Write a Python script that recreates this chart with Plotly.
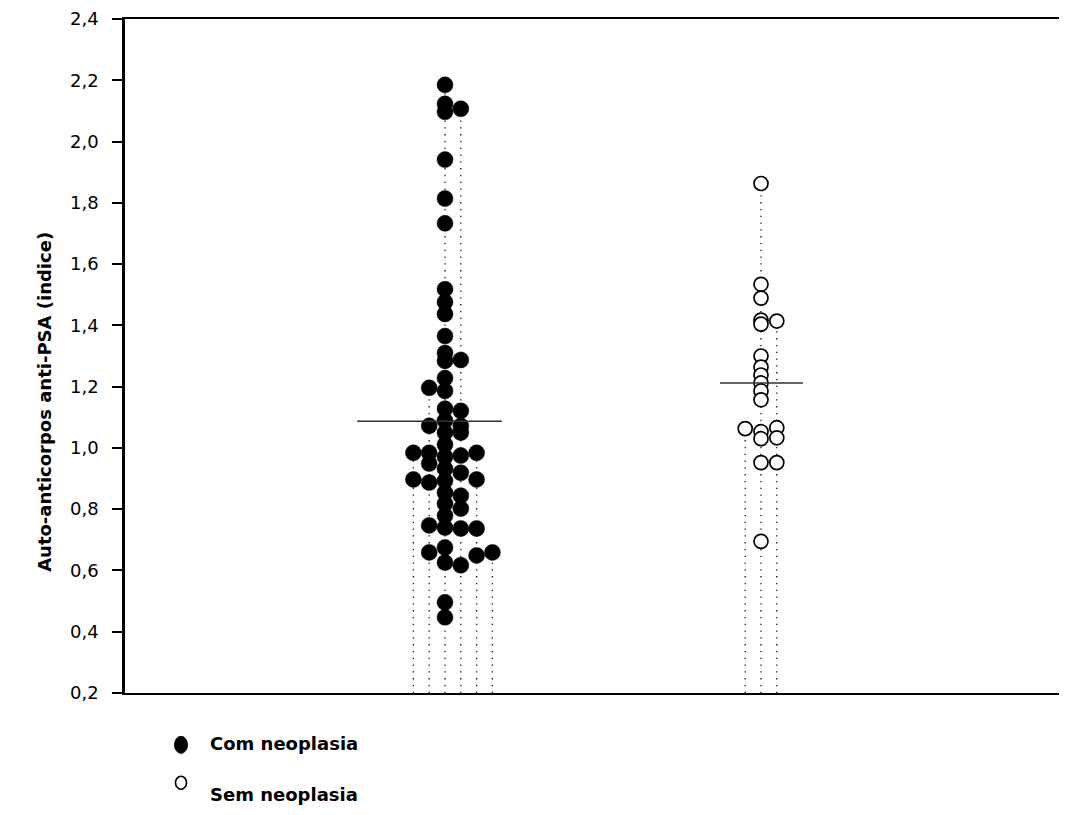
import plotly.graph_objects as go

# ---------------- data ----------------
# "Com neoplasia" (filled circles), one list per swarm lane, left to right
com_lane1 = [0.984, 0.897]
com_lane2 = [1.196, 1.072, 0.984, 0.949, 0.887, 0.747, 0.659]
com_lane3 = [2.185, 2.123, 2.097, 1.941, 1.814, 1.733, 1.518, 1.476, 1.437,
             1.365, 1.310, 1.284, 1.228, 1.186, 1.128, 1.089, 1.050, 1.011,
             0.971, 0.932, 0.893, 0.854, 0.818, 0.779, 0.740, 0.675, 0.626,
             0.496, 0.447]
com_lane4 = [2.107, 1.287, 1.121, 1.072, 1.050, 0.975, 0.919, 0.844, 0.802,
             0.737, 0.617]
com_lane5 = [0.984, 0.897, 0.737, 0.649]
com_lane6 = [0.659]

# "Sem neoplasia" (open circles), one list per swarm lane, left to right
sem_lane1 = [1.063]
sem_lane2 = [1.863, 1.534, 1.489, 1.417, 1.404, 1.300, 1.264, 1.238, 1.212,
             1.186, 1.157, 1.053, 1.030, 0.952, 0.695]
sem_lane3 = [1.414, 1.066, 1.033, 0.952]

group_names = ["Com neoplasia", "Sem neoplasia"]
medians = [1.087, 1.212]

y_ticks = [0.2, 0.4, 0.6, 0.8, 1.0, 1.2, 1.4, 1.6, 1.8, 2.0, 2.2, 2.4]
y_title = "Auto-anticorpos anti-PSA (indice)"

# ---------------- layout constants ----------------
PAGE = 8                         # default body margin of the html page
W, H = 1057, 799
L, R, T, B = 117, 0, 9, 114
PW, PH = W - L - R, H - T - B
LANE = 0.05                      # lane spacing in x units
X0 = -0.01266
X_RANGE = [X0, X0 + PW / 316.0]
FONT = "DejaVu Sans, Liberation Sans, Arial, sans-serif"

com_lanes = [com_lane1, com_lane2, com_lane3, com_lane4, com_lane5, com_lane6]
com_offsets = [-2, -1, 0, 1, 2, 3]
sem_lanes = [sem_lane1, sem_lane2, sem_lane3]
sem_offsets = [-1, 0, 1]

fig = go.Figure()

def add_group(center, lanes, offsets, filled):
    # dotted drop lines from the bottom to the top point of each lane
    lx, ly = [], []
    for lane, off in zip(lanes, offsets):
        x = center + off * LANE
        lx += [x, x, None]
        ly += [y_ticks[0], max(lane), None]
    fig.add_trace(go.Scatter(x=lx, y=ly, mode="lines", hoverinfo="skip",
                             line=dict(color="#111", width=1.3, dash="1.3px,5.5px"),
                             showlegend=False))
    px, py = [], []
    for lane, off in zip(lanes, offsets):
        px += [center + off * LANE] * len(lane)
        py += lane
    if filled:
        marker = dict(size=16, color="black", line=dict(color="black", width=0.5))
    else:
        marker = dict(size=14, color="white", line=dict(color="black", width=1.7))
    fig.add_trace(go.Scatter(x=px, y=py, mode="markers", marker=marker,
                             showlegend=False))

add_group(1, com_lanes, com_offsets, True)
add_group(2, sem_lanes, sem_offsets, False)

# median lines
med_spans = [(-0.278, 0.180), (-0.130, 0.133)]
for g, (m, (a, b)) in enumerate(zip(medians, med_spans)):
    c = g + 1
    fig.add_trace(go.Scatter(x=[c + a, c + b], y=[m, m], mode="lines",
                             line=dict(color="#333", width=1.4),
                             hoverinfo="skip", showlegend=False))

# helpers: page pixel -> paper coordinates
def pxx(px):
    return (px - PAGE - L) / PW

def pxy(py):
    return (H - B - (py - PAGE)) / PH

legend_items = [
    (group_names[0], 745, 744, True),
    (group_names[1], 783, 795, False),
]
for name, my, ty, filled in legend_items:
    if filled:
        fig.add_shape(type="circle", xref="paper", yref="paper",
                      xsizemode="pixel", ysizemode="pixel",
                      xanchor=pxx(181), yanchor=pxy(my),
                      x0=-6.5, x1=6.5, y0=-8.5, y1=8.5,
                      fillcolor="black", line=dict(color="black", width=1))
    else:
        fig.add_shape(type="circle", xref="paper", yref="paper",
                      xsizemode="pixel", ysizemode="pixel",
                      xanchor=pxx(181), yanchor=pxy(my),
                      x0=-5.5, x1=5.5, y0=-6.5, y1=6.5,
                      fillcolor="white", line=dict(color="black", width=1.6))
    fig.add_annotation(text="<b>%s</b>" % name, xref="paper", yref="paper",
                       x=pxx(209), y=pxy(ty),
                       xanchor="left", yanchor="middle", showarrow=False,
                       borderpad=0,
                       font=dict(family=FONT, size=18, color="black"))

# y axis title
fig.add_annotation(text="<b>%s</b>" % y_title, xref="paper", yref="paper",
                   x=pxx(45), y=pxy(401), textangle=-90,
                   xanchor="center", yanchor="middle", showarrow=False,
                   font=dict(family=FONT, size=18, color="black"))

fig.update_layout(
    width=W, height=H,
    margin=dict(l=L, r=R, t=T, b=B, pad=0),
    paper_bgcolor="white", plot_bgcolor="white",
    separators=",.",
    showlegend=False,
    font=dict(family=FONT, size=18, color="black"),
    xaxis=dict(range=X_RANGE, showgrid=False, zeroline=False,
               showticklabels=False, ticks="",
               showline=True, linecolor="black", linewidth=2, mirror=True),
    yaxis=dict(range=[y_ticks[0], y_ticks[-1]], tickvals=y_ticks,
               tickformat=".1f", showgrid=False, zeroline=False,
               showline=True, linecolor="black", linewidth=2.5,
               ticks="outside", ticklen=10, tickwidth=1.5, tickcolor="black",
               ticklabelstandoff=10, ticklabeloverflow="allow",
               tickfont=dict(family=FONT, size=18, color="black")),
)

fig.write_html("out.html")
